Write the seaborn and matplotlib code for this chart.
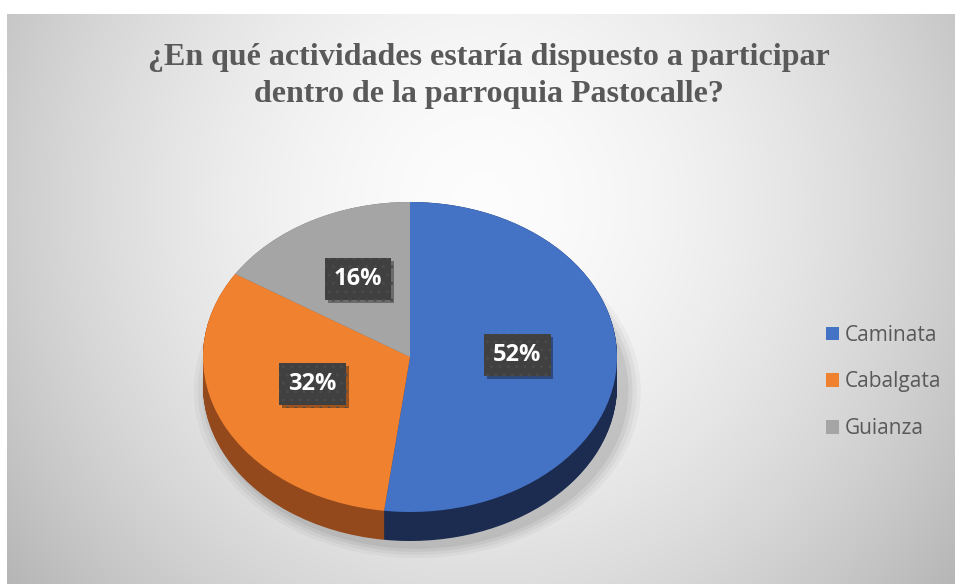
import numpy as np
import matplotlib
matplotlib.use("Agg")
import matplotlib.pyplot as plt
import seaborn as sns
from matplotlib import patheffects as pe

# ---- data ----
categories = ["Caminata", "Cabalgata", "Guianza"]
values = [52, 32, 16]
title = "¿En qué actividades estaría dispuesto a participar\ndentro de la parroquia Pastocalle?"

top_colors = ["#4472C4", "#F0822F", "#A5A5A5"]
side_colors = ["#1C2B50", "#93491B", "#6E6E6E"]

sns.set_theme(style="white")
plt.rcParams['font.family'] = ['Open Sans', 'DejaVu Sans']

W, H = 955, 584
fig = plt.figure(figsize=(W / 100, H / 100), dpi=100)
fig.patch.set_facecolor('white')

# ---- background radial gradient ----
bg = fig.add_axes([7 / W, 0, (W - 7) / W, (H - 14) / H])
ny, nx = 285, 474
yy, xx = np.mgrid[0:ny, 0:nx]
cx, cy = nx * 0.5, ny * 0.33
d = np.sqrt(((xx - cx) / (nx * 0.55)) ** 2 + ((yy - cy) / (ny * 0.95)) ** 2)
val = 0.99 - 0.22 * np.clip(d, 0, 1.3) ** 1.7
img = np.dstack([val] * 3)
bg.imshow(img, extent=[0, 1, 0, 1], aspect='auto', origin='upper',
          interpolation='bilinear')
bg.set_axis_off()

# ---- pie axes (elliptical, 3D look) ----
ax = fig.add_axes([161.6 / W, 10 / H, 496.8 / W, 403 / H])
depth = 29 / 155

# soft shadow
for r, a in [(1.08, 0.03), (1.06, 0.04), (1.04, 0.05), (1.02, 0.06)]:
    ax.pie([1], radius=r, center=(0.035, -depth - 0.03), colors=['#000000'],
           wedgeprops=dict(alpha=a, linewidth=0))

# side (extrusion)
for dd in np.linspace(depth, 0.0, 40):
    ax.pie(values, radius=1, center=(0, -dd), startangle=90, counterclock=False,
           colors=side_colors, wedgeprops=dict(linewidth=0))

# top surface
wedges, texts, autotexts = ax.pie(
    values, radius=1, startangle=90, counterclock=False, colors=top_colors,
    autopct=lambda p: f"{p:.0f}%", pctdistance=0.52,
    wedgeprops=dict(linewidth=0),
    textprops=dict(color='white', fontsize=17, fontweight='bold'))

for at in autotexts:
    x, y = at.get_position()
    at.set_position((x, y + 0.045))
    at.set_bbox(dict(boxstyle='square,pad=0.38', fc='#404040', ec='#4a4a4a',
                     lw=0.0, hatch='..'))
    at.get_bbox_patch().set_path_effects(
        [pe.SimplePatchShadow(offset=(2, -2), shadow_rgbFace='#000000', alpha=0.35),
         pe.Normal()])

ax.set_aspect('auto')
ax.set_xlim(-1.2, 1.2)
ax.set_ylim(-1.4, 1.2)
ax.set_axis_off()

# ---- title ----
fig.text(489 / W, (H - 76) / H, title, ha='center', va='center',
         multialignment='center', fontsize=23, fontweight='bold',
         color='#595959', linespacing=1.33,
         family=['Liberation Serif', 'DejaVu Serif'])

# ---- legend ----
fig.legend(wedges, categories, loc='center left',
           bbox_to_anchor=(826 / W, (H - 382) / H), frameon=False,
           fontsize=15, labelcolor='#595959', handlelength=0.62,
           handleheight=0.62, handletextpad=0.3, labelspacing=1.23,
           borderpad=0, borderaxespad=0)

fig.savefig("out.png", dpi=100)
